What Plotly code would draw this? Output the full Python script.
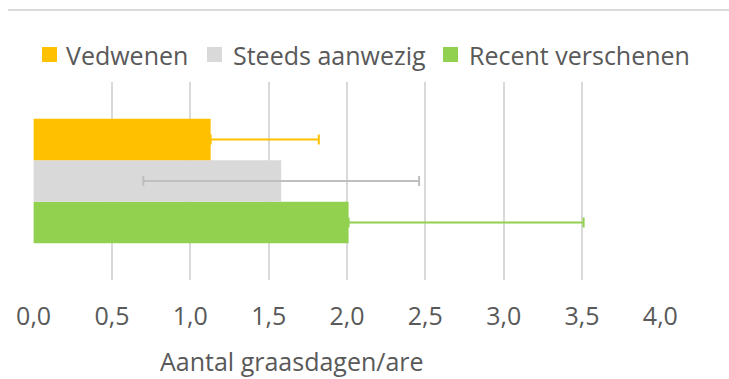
import plotly.graph_objects as go

# Grazing-day indicator per species group (mean with error bars)
groups = ["Vedwenen", "Steeds aanwezig", "Recent verschenen"]
means = [1.13, 1.58, 2.01]
err_plus = [0.69, 0.88, 1.50]
err_minus = [0.0, 0.88, 0.0]
colors = ["#FFC000", "#D9D9D9", "#92D050"]
err_colors = ["#FFC000", "#BFBFBF", "#92D050"]
category = ["graasdagen"]
x_ticks = [0.0, 0.5, 1.0, 1.5, 2.0, 2.5, 3.0, 3.5, 4.0]
x_title = "Aantal graasdagen/are"

font_family = "'Open Sans', sans-serif"
text_color = "#595959"
W, H = 729, 379
plot_left, plot_right = 33, 661
plot_top, plot_bottom = 82, 280
plot_w = plot_right - plot_left
plot_h = plot_bottom - plot_top


def px_x(p):
    return (p - plot_left) / plot_w


def px_y(p):
    return (plot_bottom - p) / plot_h


fig = go.Figure()
# Added bottom-to-top so the first group sits on top of the stack
for i in reversed(range(len(groups))):
    fig.add_trace(go.Bar(
        y=category,
        x=[means[i]],
        name=groups[i],
        orientation="h",
        marker=dict(color=colors[i], line=dict(width=0)),
        error_x=dict(
            type="data",
            symmetric=False,
            array=[err_plus[i]],
            arrayminus=[err_minus[i]],
            color=err_colors[i],
            thickness=2,
            width=5,
        ),
        showlegend=False,
    ))

fig.update_layout(
    width=W,
    height=H,
    margin=dict(l=plot_left, r=W - plot_right, t=plot_top, b=H - plot_bottom),
    paper_bgcolor="white",
    plot_bgcolor="white",
    barmode="group",
    bargap=0.37,
    bargroupgap=0,
    separators=", ",
    font=dict(family=font_family, size=25, color=text_color),
    xaxis=dict(
        range=[-0.004, 4.004],
        tickvals=x_ticks,
        tickformat=".1f",
        showgrid=True,
        gridcolor="#D9D9D9",
        gridwidth=1.5,
        zeroline=False,
        showline=False,
        ticks="",
        ticklabelstandoff=19,
    ),
    yaxis=dict(
        showticklabels=False,
        showgrid=False,
        zeroline=False,
        showline=False,
        ticks="",
    ),
)

# Legend row across the top: colour square followed by the group name
legend_square_left = [42, 207, 443]
legend_text_left = [65, 232, 468]
legend_mid, sq = 54.5, 15
for i, name in enumerate(groups):
    fig.add_shape(
        type="rect", xref="paper", yref="paper",
        x0=px_x(legend_square_left[i]), x1=px_x(legend_square_left[i] + sq),
        y0=px_y(legend_mid + sq / 2), y1=px_y(legend_mid - sq / 2),
        fillcolor=colors[i], line=dict(width=0),
    )
    fig.add_annotation(
        text=name, xref="paper", yref="paper",
        x=px_x(legend_text_left[i]), y=px_y(legend_mid),
        xanchor="left", yanchor="middle", showarrow=False, borderpad=0,
        font=dict(size=25, color=text_color, family=font_family),
    )

# Axis title, placed left of the plot centre
fig.add_annotation(
    text=x_title, xref="paper", yref="paper",
    x=px_x(292), y=px_y(361),
    xanchor="center", yanchor="middle", showarrow=False, borderpad=0,
    font=dict(size=25, color=text_color, family=font_family),
)

# Thin frame line across the top of the chart area
fig.add_shape(
    type="line", xref="paper", yref="paper",
    x0=px_x(8), x1=px_x(W + 5), y0=px_y(10), y1=px_y(10),
    line=dict(color="#D9D9D9", width=2),
)

fig.write_html("out.html")
